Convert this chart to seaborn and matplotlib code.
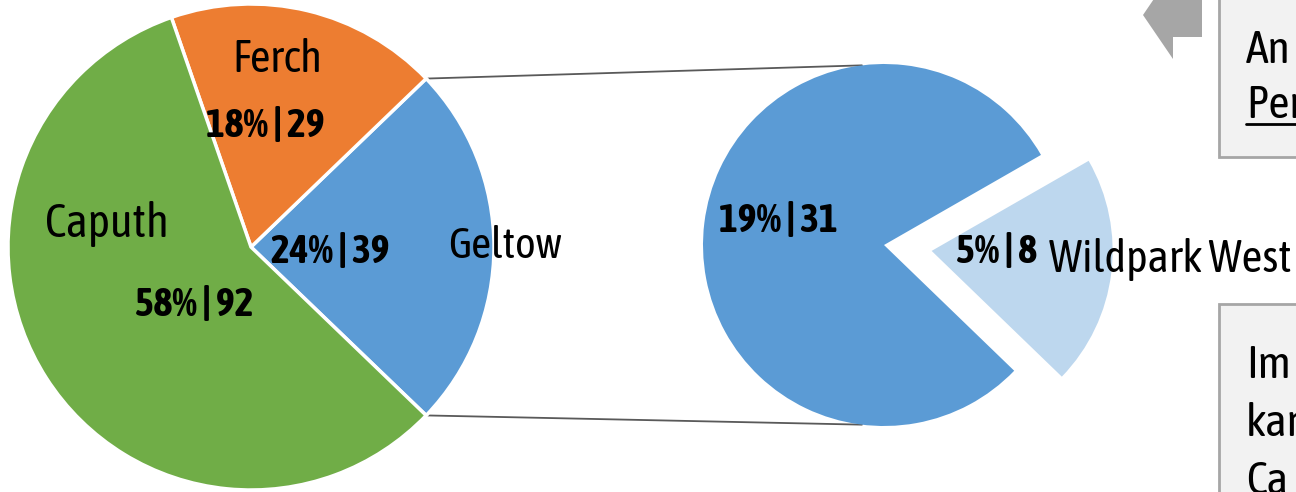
import matplotlib
matplotlib.use("Agg")
import numpy as np
import matplotlib.pyplot as plt
import matplotlib.font_manager as fm
from matplotlib.patches import Rectangle, Polygon
import seaborn as sns

# Daten: Hauptkreis und Detailkreis (Geltow aufgeteilt)
main_labels = ["Geltow", "Ferch", "Caputh"]
main_counts = [39, 29, 92]
main_colors = ["#5B9BD5", "#ED7D31", "#70AD47"]

detail_labels = ["Wildpark West", "Geltow"]
detail_counts = [8, 31]
detail_colors = ["#BDD7EE", "#5B9BD5"]

note_top = ["An", "Per"]
note_bottom = ["Im", "kar", "Ca"]

W, H = 1296, 492


def px(x, y):
    # Bildkoordinaten (y nach unten) -> Datenkoordinaten
    return x, H - y


def weight_num(w):
    if isinstance(w, (int, float)):
        return w
    return fm.weight_dict.get(str(w).lower(), 400)


def set_config():
    # schmale Schrift suchen, sonst DejaVu Sans Condensed
    sns.set_theme(style="white")
    fonts = [f for f in fm.fontManager.ttflist
             if "Condensed" in f.name or "Narrow" in f.name]
    if not fonts:
        plt.rcParams["font.family"] = ["DejaVu Sans"]
        return ["DejaVu Sans"], ["DejaVu Sans"], "condensed"
    regular = sorted({f.name for f in fonts if 350 <= weight_num(f.weight) <= 500})
    bold = sorted({f.name for f in fonts if weight_num(f.weight) >= 600})
    both = [n for n in regular if n in bold]
    reg = both[0] if both else (regular[0] if regular else fonts[0].name)
    bld = reg if both else (bold[0] if bold else reg)
    plt.rcParams["font.family"] = [reg, "DejaVu Sans"]
    return [reg, "DejaVu Sans"], [bld, "DejaVu Sans"], "normal"


def pct_label(counts, total):
    s = sum(counts)

    def fmt(p):
        n = int(round(p * s / 100))
        pct = (200 * n + total) // (2 * total)
        return f"{pct}% | {n}"
    return fmt


fam_reg, fam_bold, stretch = set_config()
total = sum(main_counts)

fig = plt.figure(figsize=(12.96, 4.92), dpi=100)
ax = fig.add_axes([0, 0, 1, 1])

# Hauptkreis
start_main = -360 * main_counts[0] / total / 2
c_main, r_main = px(251, 247), 243
w1, t1, a1 = ax.pie(
    main_counts, labels=main_labels, colors=main_colors,
    startangle=start_main, center=c_main, radius=r_main,
    autopct=pct_label(main_counts, total),
    wedgeprops=dict(edgecolor="white", linewidth=2.5),
)

# Detailkreis
start_det = -44
c_det, r_det = px(884, 245), 181
w2, t2, a2 = ax.pie(
    detail_counts, labels=detail_labels, colors=detail_colors,
    startangle=start_det, center=c_det, radius=r_det, explode=[48, 0],
    autopct=pct_label(detail_counts, total),
    wedgeprops=dict(edgecolor="none"),
)

name_pos = [(505, 258), (277, 72), (107, 237)]
pct_pos = [(330, 263), (265, 137), (194, 316)]
for t, (x, y) in zip(t1, name_pos):
    t.set_position(px(x, y))
for t, (x, y) in zip(a1, pct_pos):
    t.set_position(px(x, y))

name_pos2 = [(1170, 272), (0, -100)]
pct_pos2 = [(997, 263), (778, 232)]
for t, (x, y) in zip(t2, name_pos2):
    t.set_position(px(x, y))
for t, (x, y) in zip(a2, pct_pos2):
    t.set_position(px(x, y))
t2[1].set_visible(False)

for t in list(t1) + list(t2):
    t.set(fontsize=34, color="black", ha="center", va="baseline",
          family=fam_reg, fontstretch=stretch)
for t in list(a1) + list(a2):
    t.set(fontsize=26, color="black", fontweight="bold", ha="center", va="baseline",
          family=fam_bold, fontstretch=stretch)

# Verbindungslinien
for a_main, a_det in [(-start_main, 97), (start_main, 263)]:
    x0 = c_main[0] + r_main * np.cos(np.radians(a_main))
    y0 = c_main[1] + r_main * np.sin(np.radians(a_main))
    x1 = c_det[0] + r_det * np.cos(np.radians(a_det))
    y1 = c_det[1] + r_det * np.sin(np.radians(a_det))
    ax.plot([x0, x1], [y0, y1], color="#595959", lw=1.3, zorder=0)

# Pfeil und Textkästen am rechten Rand
arrow = [(1143, 15), (1160, -10), (1202, -10), (1202, 37), (1173, 37), (1173, 59)]
ax.add_patch(Polygon([px(x, y) for x, y in arrow], closed=True,
                     facecolor="#A6A6A6", edgecolor="none"))
ax.add_patch(Rectangle(px(1219, 157), 100, 180, facecolor="#F2F2F2",
                       edgecolor="#A6A6A6", lw=2))
ax.add_patch(Rectangle(px(1219, 510), 100, 206, facecolor="#F2F2F2",
                       edgecolor="#A6A6A6", lw=2))

notes = []
for txt, y in zip(note_top, [63, 118]):
    notes.append(ax.text(*px(1246, y), txt, fontsize=34, va="baseline", ha="left",
                         color="black", family=fam_reg, fontstretch=stretch))
for txt, y in zip(note_bottom, [378, 436, 494]):
    notes.append(ax.text(*px(1246, y), txt, fontsize=34, va="baseline", ha="left",
                         color="black", family=fam_reg, fontstretch=stretch))

ax.set_xlim(0, W)
ax.set_ylim(0, H)
ax.set_aspect("equal")
ax.axis("off")

# Schriftgröße an die Breite im Original anpassen
fig.canvas.draw()
renderer = fig.canvas.get_renderer()
widths = [(t1[0], 111), (t1[1], 87), (t1[2], 120), (t2[0], 235),
          (a1[0], 119), (a1[1], 116), (a1[2], 119), (a2[0], 88), (a2[1], 117)]
scales = []
for t, target in widths:
    w = t.get_window_extent(renderer).width
    s = target / w
    scales.append(s)
    t.set_fontsize(t.get_fontsize() * min(1.1, s * 1.03))
note_scale = min(1.0, np.mean(scales[:4]) * 1.05)
for t in notes:
    t.set_fontsize(t.get_fontsize() * note_scale)
ax.plot([1246, 1300], [H - 124, H - 124], color="black", lw=2)

fig.savefig("out.png", dpi=100)
